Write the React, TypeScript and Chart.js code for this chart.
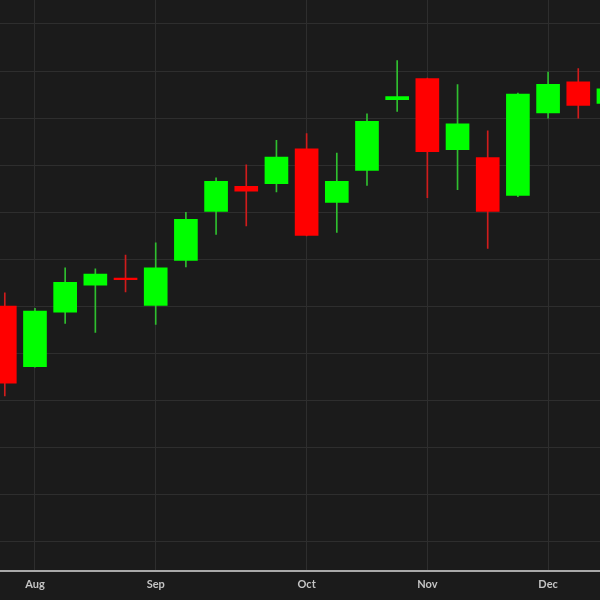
import React, { useEffect, useRef } from "react";
import { Chart, registerables } from "chart.js";

Chart.register(...registerables);

// Weekly candles (index 0 = last week of July)
const weekIndex = [0, 1, 2, 3, 4, 5, 6, 7, 8, 9, 10, 11, 12, 13, 14, 15, 16, 17, 18, 19, 20];
const opens = [150.1, 137.2, 148.8, 154.5, 156.0, 150.2, 159.8, 170.2, 175.5, 176.1, 183.5, 172.1, 178.9, 193.9, 198.4, 183.3, 181.6, 173.6, 191.1, 197.7, 193.1];
const highs = [152.9, 149.6, 158.2, 158.0, 160.9, 163.5, 170.0, 177.3, 180.1, 185.3, 186.7, 182.6, 190.9, 202.2, 198.5, 197.1, 187.3, 195.3, 199.8, 200.5, 197.5];
const lows = [131.0, 137.1, 146.4, 144.5, 153.1, 146.2, 158.4, 165.3, 167.1, 174.3, 165.0, 165.7, 175.7, 191.4, 173.1, 174.8, 162.3, 173.3, 190.0, 190.0, 191.5];
const closes = [133.7, 149.0, 155.1, 156.9, 155.7, 158.2, 168.5, 176.6, 174.5, 181.7, 165.1, 176.6, 189.3, 194.6, 182.9, 188.8, 170.2, 195.1, 197.2, 192.7, 196.2];

// Month labels placed at the first weekly candle of each month
const monthTickIndex = [1, 5, 10, 14, 18];
const monthLabels = ["Aug", "Sep", "Oct", "Nov", "Dec"];

// Horizontal price gridlines
const priceGrid = [100, 110, 120, 130, 140, 150, 160, 170, 180, 190, 200, 210];

const UP = "#00ff00";
const DOWN = "#ff0000";
const UP_WICK = "#2fbf2f";
const DOWN_WICK = "#d01c1c";

export default function App() {
  const canvasRef = useRef<HTMLCanvasElement | null>(null);

  useEffect(() => {
    document.body.style.margin = "0";
    document.body.style.background = "#1b1b1b";
    const canvas = canvasRef.current;
    if (!canvas) return;

    const isUp = weekIndex.map((i) => closes[i] >= opens[i]);

    const chart = new Chart(canvas, {
      type: "bar",
      data: {
        datasets: [
          {
            label: "body",
            data: weekIndex.map((i) => ({ x: i, y: [opens[i], closes[i]] })) as any,
            backgroundColor: isUp.map((u) => (u ? UP : DOWN)),
            borderWidth: 0,
            barThickness: 23,
            grouped: false,
          } as any,
          {
            label: "wick",
            data: weekIndex.map((i) => ({ x: i, y: [lows[i], highs[i]] })) as any,
            backgroundColor: isUp.map((u) => (u ? UP_WICK : DOWN_WICK)),
            borderWidth: 0,
            barThickness: 1,
            grouped: false,
          } as any,
        ],
      },
      options: {
        animation: false,
        responsive: false,
        maintainAspectRatio: false,
        layout: { padding: { left: 0, right: 0, top: 0, bottom: 2 } },
        plugins: {
          legend: { display: false },
          tooltip: { enabled: false },
        },
        scales: {
          x: {
            type: "linear",
            min: -0.159,
            max: 19.72,
            offset: false,
            afterBuildTicks: (scale: any) => {
              scale.ticks = monthTickIndex.map((v) => ({ value: v }));
            },
            ticks: {
              display: true,
              autoSkip: false,
              maxRotation: 0,
              padding: 7,
              color: "#c4c4c4",
              font: { family: "Lato", size: 11, weight: "bold" },
              callback: (value: any) => {
                const k = monthTickIndex.indexOf(Number(value));
                return k >= 0 ? monthLabels[k] : "";
              },
            },
            grid: {
              color: "#2e2e2e",
              lineWidth: 1,
              drawTicks: false,
              offset: false,
            },
            border: { display: true, color: "#a9a9a9", width: 2 },
          },
          y: {
            type: "linear",
            min: 93.85,
            max: 215.09,
            afterBuildTicks: (scale: any) => {
              scale.ticks = priceGrid.map((v) => ({ value: v }));
            },
            ticks: { display: false },
            grid: { color: "#2e2e2e", lineWidth: 1, drawTicks: false },
            border: { display: false },
          },
        },
      } as any,
    });

    return () => chart.destroy();
  }, []);

  return (
    <div style={{ width: 600, height: 600, background: "#1b1b1b", position: "relative" }}>
      <canvas ref={canvasRef} width={600} height={600} style={{ display: "block" }} />
    </div>
  );
}
